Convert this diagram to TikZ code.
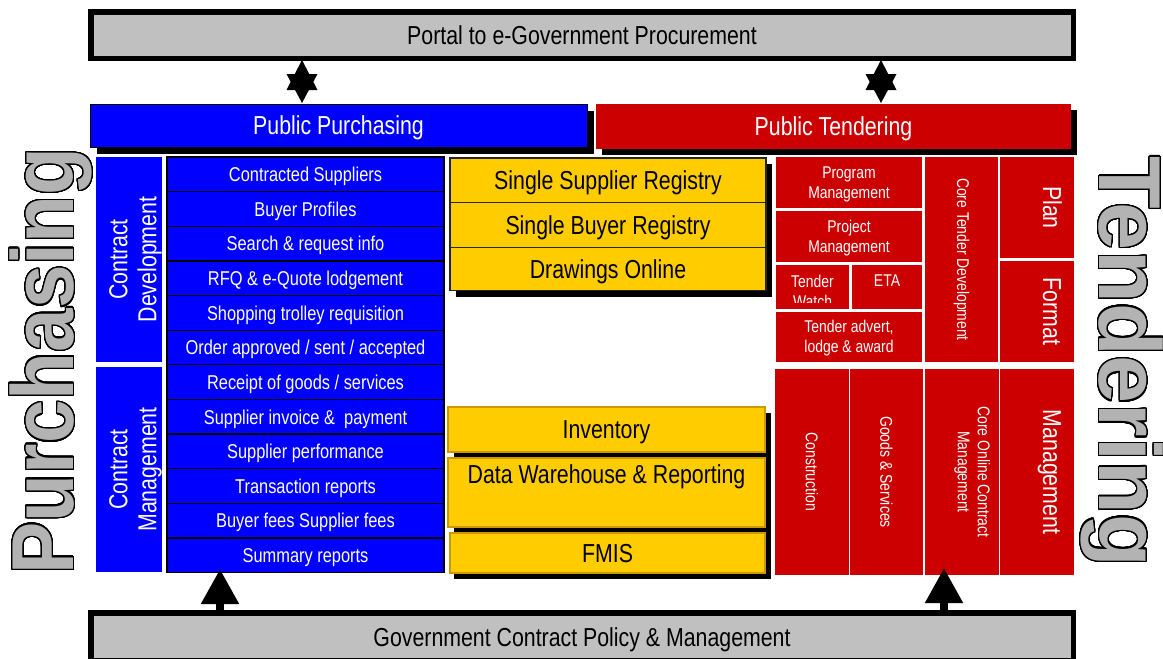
\documentclass[tikz,border=0pt]{standalone}
\usepackage{fontspec}
\setmainfont[FakeStretch=0.82]{Liberation Sans}
\newfontfamily\purchfont[FakeStretch=0.89]{Liberation Sans}
\newfontfamily\tendfont[FakeStretch=0.98]{Liberation Sans}
\usepackage{contour}
\contourlength{1.4pt}
\contournumber{40}
\usetikzlibrary{arrows.meta,calc}
\definecolor{pblue}{HTML}{0000FF}
\definecolor{pred}{HTML}{CC0000}
\definecolor{pyel}{HTML}{FFCC00}
\definecolor{pgold}{HTML}{CC9900}
\definecolor{pgray}{HTML}{C0C0C0}
\definecolor{bgray}{HTML}{B3B3B3}
\newcommand\fszA{\fontsize{26}{29}\selectfont}
\newcommand\fszB{\fontsize{20}{24}\selectfont}
\newcommand\fszC{\fontsize{17}{20}\selectfont}
\begin{document}
\begin{tikzpicture}[x=1pt,y=-1pt,
  bx/.style={rectangle, anchor=north west, inner sep=0pt, outer sep=0pt},
  capA/.style={text height=18.7pt, text depth=0pt},
  capB/.style={text height=14.4pt, text depth=0pt},
  graybar/.style={bx, fill=pgray, draw=black, line width=5.5pt, font=\fszA, capA, minimum width=982.5pt, minimum height=46.5pt},
  shadowfill/.style={fill=black},
  headbar/.style={bx, text=white, font=\fszA, capA},
  listrow/.style={bx, fill=pblue, draw=black, line width=1.3pt, text=white, font=\fszB, capB, minimum width=277pt, minimum height=34.64pt},
  sidebox/.style={bx, fill=pblue, minimum width=66pt, minimum height=205pt},
  ybox/.style={bx, fill=pyel, draw=#1, line width=1.3pt, font=\fszA, capA},
  rbox/.style={bx, fill=pred},
  wtext/.style={text=white, inner sep=0pt, outer sep=0pt, align=center},
  startri/.style={fill=black},
  uparrow/.style={line width=8pt, -{Triangle[length=35pt,width=36pt]}}
]
\useasboundingbox (0,0) rectangle (1163,659);

% top and bottom bars
\node[graybar, yshift=-1pt] (portal) at (90.75,10.75) {Portal to e-Government Procurement};
\node[graybar, minimum height=48pt] (gov) at (90.75,612.75) {Government Contract Policy \& Management};

% headers
\fill[shadowfill] (97,111) rectangle (594,154);
\node[headbar, fill=pblue, draw=black, line width=0.8pt, minimum width=497pt, minimum height=43pt] (pp) at (90,104) {Public Purchasing};
\fill[shadowfill] (602,110) rectangle (1077,154.5);
\node[headbar, fill=pred, minimum width=475pt, minimum height=44.5pt] (pt) at (596,104) {Public Tendering};

% star connectors
\coordinate (s1a) at (302,60);
\coordinate (s1b) at (302,103);
\coordinate (s2a) at (881,60);
\coordinate (s2b) at (881,103);
\fill[startri] (s1a) -- ++(15.5,30) -- ++(-31,0) -- cycle;
\fill[startri] (s1b) -- ++(15.5,-29) -- ++(-31,0) -- cycle;
\fill[startri] (s2a) -- ++(15.5,30) -- ++(-31,0) -- cycle;
\fill[startri] (s2b) -- ++(15.5,-29) -- ++(-31,0) -- cycle;

% side labels
\node[sidebox] (cd) at (96,157) {};
\node[sidebox] (cm) at (96,367) {};
\begin{scope}
\clip (cd.north west) rectangle (cd.south east);
\node[wtext, font=\fszA, rotate=90] at ($(cd.center)+(6.6,0)$) {Contract\\Development};
\end{scope}
\begin{scope}
\clip (cm.north west) rectangle (cm.south east);
\node[wtext, font=\fszA, rotate=90] at ($(cm.center)+(6.6,0)$) {Contract\\Management};
\end{scope}

% purchasing list
\foreach \t [count=\i from 0] in {Contracted Suppliers, Buyer Profiles, Search \& request info, RFQ \& e-Quote lodgement, Shopping trolley requisition, Order approved / sent / accepted, Receipt of goods / services, Supplier invoice \& \ payment, Supplier performance, Transaction reports, Buyer fees Supplier fees, Summary reports}
  \node[listrow] (l\i) at (167,157+\i*34.64) {\t};

% yellow group 1
\fill[shadowfill] (456,164) rectangle (772,297);
\node[ybox=black!85, minimum width=316pt, minimum height=44.7pt] (ssr) at (450,158) {Single Supplier Registry};
\node[ybox=black!85, minimum width=316pt, minimum height=45pt] (sbr) at (450,202.7) {Single Buyer Registry};
\node[ybox=black!85, minimum width=316pt, minimum height=43pt] (dro) at (450,247.7) {Drawings Online};

% yellow group 2
\fill[shadowfill] (454,413) rectangle (771,579);
\node[ybox=pgold, minimum width=317pt, minimum height=45pt] (inv) at (448,407) {Inventory};
\node[ybox=pgold, minimum width=317pt, minimum height=69pt] (dwr) at (448,458) {};
\node[font=\fszA, capA, inner sep=0pt] at ($(dwr.north)+(0,16.5)$) {Data Warehouse \& Reporting};
\node[ybox=pgold, minimum width=315pt, minimum height=40pt] (fmis) at (450,533) {FMIS};

% red top group
\node[rbox, minimum width=146pt, minimum height=51pt] (prog) at (776,157) {};
\node[wtext, font=\fszC] at ($(prog.center)+(0,1.5)$) {Program\\Management};
\node[rbox, minimum width=146pt, minimum height=51pt] (proj) at (776,211) {};
\node[wtext, font=\fszC] at ($(proj.center)+(0,1.5)$) {Project\\Management};
\node[rbox, minimum width=73pt, minimum height=44pt] (tw) at (776,265) {};
\begin{scope}
\clip (tw.north west) rectangle ($(tw.south east)+(0,-7)$);
\node[wtext, font=\fszC, anchor=north] at ($(tw.north)+(0,10)$) {Tender\\Watch};
\end{scope}
\node[rbox, minimum width=70pt, minimum height=44pt] (eta) at (852,265) {};
\node[wtext, font=\fszC, anchor=north] at ($(eta.north)+(0,10)$) {ETA};
\node[rbox, minimum width=146pt, minimum height=50pt] (adv) at (776,312) {};
\node[wtext, font=\fszC] at ($(adv.center)+(0,1.5)$) {Tender advert,\\lodge \& award};
\node[rbox, minimum width=73pt, minimum height=205pt] (ctd) at (925,157) {};
\node[wtext, font=\fszC, rotate=-90] at (ctd.center) {Core Tender Development};
\node[rbox, minimum width=74pt, minimum height=101pt] (plan) at (1000,157) {};
\node[wtext, font=\fszA, rotate=-90, anchor=base] at (1043,207.5) {Plan};
\node[rbox, minimum width=74pt, minimum height=101pt] (fmt) at (1000,261) {};
\node[wtext, font=\fszA, rotate=-90, anchor=base] at (1043,311.5) {Format};

% red bottom group
\node[rbox, minimum width=74pt, minimum height=206pt] (con) at (775,369) {};
\node[wtext, font=\fszC, rotate=-90] at (con.center) {Construction};
\node[rbox, minimum width=73pt, minimum height=206pt] (gs) at (850,369) {};
\node[wtext, font=\fszC, rotate=-90] at (gs.center) {Goods \& Services};
\node[rbox, minimum width=74pt, minimum height=206pt] (coc) at (925,369) {};
\node[wtext, font=\fszC, rotate=-90, anchor=north] at (990.2,472) {Core Online Contract\\Management};
\node[rbox, minimum width=74pt, minimum height=206pt] (mgt) at (1000,369) {};
\node[wtext, font=\fszA, rotate=-90, anchor=base] at (1043,472) {Management};

% arrows from bottom bar
\coordinate (a1s) at (220,612);
\coordinate (a1e) at (220,569);
\coordinate (a2s) at (944,612);
\coordinate (a2e) at (944,568);
\draw[uparrow] (a1s) -- (a1e);
\draw[uparrow] (a2s) -- (a2e);

% big outlined words
\node[rotate=90, anchor=base, inner sep=0pt] (purch) at (73.5,361) {\purchfont\bfseries\fontsize{88}{88}\selectfont\color{bgray}\contour{black}{Purchasing}};
\node[rotate=-90, anchor=base, inner sep=0pt] (tend) at (1099.5,361.5) {\tendfont\bfseries\fontsize{88}{88}\selectfont\color{bgray}\contour{black}{Tendering}};
\end{tikzpicture}
\end{document}
